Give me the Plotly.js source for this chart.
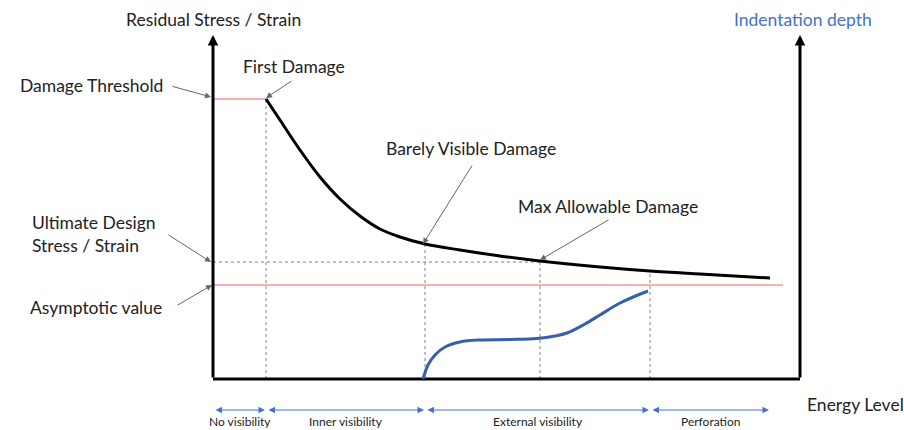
<!DOCTYPE html>
<html>
<head>
<meta charset="utf-8">
<script src="https://cdn.plot.ly/plotly-3.0.1.min.js"></script>
<style>html,body{margin:0;padding:0;background:#fff;}#chart{width:904px;height:430px;}</style>
</head>
<body>
<div id="chart"></div>
<script>
// ---- data (energy level units 0..100, stress units 0..100) ----
const energyMain   = [9.03, 11.41, 14.82, 18.23, 21.64, 25.04, 28.45, 31.86, 36.12, 42.08, 48.89, 55.71, 65.93, 74.45, 82.96, 94.89];
const stressMain   = [81.40, 75.29, 66.57, 58.72, 52.33, 47.38, 43.60, 41.28, 39.24, 37.50, 35.76, 34.30, 32.56, 31.40, 30.52, 29.36];
const energyIndent = [35.78, 36.63, 37.82, 39.52, 42.08, 45.49, 50.60, 55.20, 58.26, 60.31, 63.37, 65.93, 69.34, 74.11];
const indentDepth  = [0, 4.07, 6.98, 9.30, 10.76, 11.34, 11.48, 11.77, 12.50, 13.37, 15.99, 18.60, 22.09, 25.58];
const milestoneEnergy = [9.03, 36.12, 55.71, 74.45];
const milestoneStress = [81.40, 39.24, 34.30, 31.40];
const thresholdStress = 81.40;
const ultimateStress = 34.0;
const asymptoteStress = 27.33;
const asymptoteEnd = 97.1;
const zoneLabels = ['No visibility', 'Inner visibility', 'External visibility', 'Perforation'];
const zoneEdges = [0, 9.03, 36.12, 74.45, 94.89];
const axisMax = 100;

// ---- layout helpers ----
const W = 904, H = 430;
const X0 = 213, Y0 = 379, PXU = 5.87, PYU = 3.44;
const px = p => p / W, py = p => 1 - p / H;
const FONT = 'Lato, "Open Sans", sans-serif';
const FS = 17.5;

const traces = [];
const dotted = {color: '#808080', width: 1, dash: 'dot'};
const red = {color: '#f49a9a', width: 1.5};

traces.push({x: [0, milestoneEnergy[0]], y: [thresholdStress, thresholdStress], mode: 'lines', line: red});
traces.push({x: [0, asymptoteEnd], y: [asymptoteStress, asymptoteStress], mode: 'lines', line: red});
traces.push({x: [0, milestoneEnergy[2]], y: [ultimateStress, ultimateStress], mode: 'lines', line: dotted});
milestoneEnergy.forEach((e, i) => {
  traces.push({x: [e, e], y: [0, milestoneStress[i]], mode: 'lines', line: dotted});
});
traces.push({x: [0, axisMax], y: [0, 0], mode: 'lines', line: {color: '#000', width: 3}});
traces.push({x: energyMain, y: stressMain, mode: 'lines', line: {color: '#000', width: 3, shape: 'spline', smoothing: 1}});
traces.push({x: energyIndent, y: indentDepth, mode: 'lines', line: {color: '#3461a8', width: 3, shape: 'spline', smoothing: 1}});

const ann = [];
[0, axisMax].forEach(xv => {
  ann.push({x: xv, y: axisMax, xref: 'x', yref: 'y', ax: xv, ay: 0, axref: 'x', ayref: 'y',
    showarrow: true, arrowhead: 2, arrowsize: 0.7, arrowwidth: 3, arrowcolor: '#000', text: ''});
});
for (let i = 0; i < zoneLabels.length; i++) {
  const a = zoneEdges[i], b = zoneEdges[i + 1];
  ann.push({x: b, y: -(410 - Y0) / PYU, xref: 'x', yref: 'y', ax: a, ay: -(410 - Y0) / PYU, axref: 'x', ayref: 'y',
    showarrow: true, arrowhead: 2, arrowside: 'end+start', arrowsize: 1.3, arrowwidth: 1, arrowcolor: '#4472c4',
    text: '', standoff: 1, startstandoff: 1});
  ann.push({x: (a + b) / 2, y: -(421 - Y0) / PYU, xref: 'x', yref: 'y', text: zoneLabels[i], showarrow: false,
    font: {family: FONT, size: 12, color: '#222'}, xanchor: 'center', yanchor: 'middle'});
}
function label(t, x, y, xa, opts) {
  ann.push(Object.assign({x: px(x), y: py(y), xref: 'paper', yref: 'paper', text: t, showarrow: false,
    xanchor: xa, yanchor: 'middle', font: {family: FONT, size: FS, color: '#222'}}, opts || {}));
}
function callout(tipX, tipY, tailX, tailY) {
  ann.push({x: px(tipX), y: py(tipY), xref: 'paper', yref: 'paper', ax: tailX - tipX, ay: tailY - tipY,
    showarrow: true, arrowhead: 2, arrowsize: 1.2, arrowwidth: 1, arrowcolor: '#666', text: ''});
}
label('Residual Stress / Strain', 213, 19, 'center');
label('Indentation depth', 803, 19, 'center', {font: {family: FONT, size: FS, color: '#4472c4'}});
label('Energy Level', 805, 404, 'left');
label('Damage Threshold', 18, 85, 'left');
label('First Damage', 294, 66, 'center');
label('Barely Visible Damage', 471, 148, 'center');
label('Max Allowable Damage', 608, 206, 'center');
label('Ultimate Design<br>Stress / Strain', 30, 234, 'left', {align: 'left'});
label('Asymptotic value', 28, 307, 'left');
callout(211, 97, 171, 86);
callout(266, 98, 293, 80);
callout(423, 244, 473, 164);
callout(540, 260, 610, 219);
callout(211, 262, 167, 234);
callout(212, 285, 176, 306);

const layout = {
  width: W, height: H,
  margin: {l: 0, r: 0, t: 0, b: 0},
  paper_bgcolor: '#fff', plot_bgcolor: '#fff',
  showlegend: false,
  xaxis: {range: [-X0 / PXU, (W - X0) / PXU], visible: false, fixedrange: true},
  yaxis: {range: [-(H - Y0) / PYU, Y0 / PYU], visible: false, fixedrange: true},
  annotations: ann
};
Plotly.newPlot('chart', traces, layout, {staticPlot: true});
</script>
</body>
</html>
